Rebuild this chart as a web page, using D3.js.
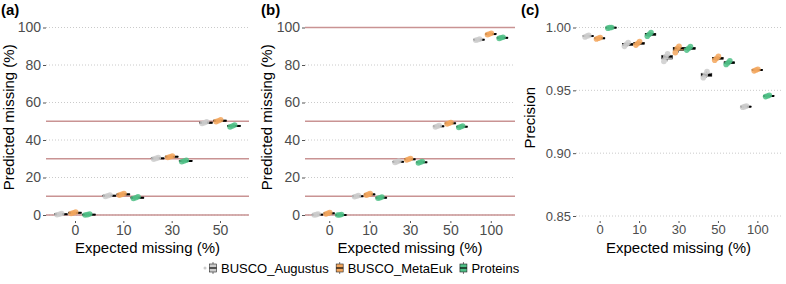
<!DOCTYPE html>
<html>
<head>
<meta charset="utf-8">
<script src="https://cdn.jsdelivr.net/npm/d3@7"></script>
<style>
  body { margin: 0; background: #fff; }
  svg { font-family: "Liberation Sans", Arial, sans-serif; }
</style>
</head>
<body>
<div id="chart"></div>
<script>
"use strict";

// categories and series (3 replicate values per group)
var methods = ["BUSCO_Augustus", "BUSCO_MetaEuk", "Proteins"];
var methodColors = ["#cccccc", "#f3a75e", "#4fbf86"];

var catsA = ["0", "10", "30", "50"];
var augA  = [[0.1, 0.4, 0.8], [9.9, 10.3, 10.7], [29.8, 30.2, 30.6], [48.8, 49.2, 49.7]];
var metaA = [[0.8, 1.2, 1.6], [10.6, 11.0, 11.5], [30.7, 31.1, 31.5], [49.8, 50.3, 50.8]];
var protA = [[0.0, 0.2, 0.5], [8.8, 9.2, 9.7], [28.4, 28.8, 29.2], [47.0, 47.5, 48.0]];

var catsB = ["0", "10", "30", "50", "100"];
var augB  = [[0.0, 0.2, 0.5], [9.7, 10.0, 10.4], [28.0, 28.4, 28.8], [46.9, 47.3, 47.7], [93.2, 93.5, 93.8]];
var metaB = [[0.5, 0.9, 1.3], [10.6, 11.0, 11.4], [29.3, 29.7, 30.1], [48.5, 48.9, 49.3], [96.2, 96.5, 96.9]];
var protB = [[0.0, 0.0, 0.3], [8.9, 9.2, 9.6], [27.7, 28.1, 28.5], [46.7, 47.1, 47.5], [94.2, 94.5, 94.8]];

var catsC = ["0", "10", "30", "50", "100"];
var augC  = [[0.9925, 0.9932, 0.9937], [0.9850, 0.9866, 0.9880], [0.9730, 0.9768, 0.9790], [0.9600, 0.9622, 0.9650], [0.9365, 0.9370, 0.9375]];
var metaC = [[0.9908, 0.9914, 0.9920], [0.9860, 0.9874, 0.9888], [0.9800, 0.9834, 0.9850], [0.9740, 0.9755, 0.9770], [0.9655, 0.9662, 0.9668]];
var protC = [[0.9995, 0.9999, 1.0000], [0.9930, 0.9946, 0.9960], [0.9820, 0.9834, 0.9848], [0.9705, 0.9720, 0.9735], [0.9450, 0.9455, 0.9460]];

var ticksAB = [0, 20, 40, 60, 80, 100];
var ticksC = [0.85, 0.90, 0.95, 1.00];

var width = 786, height = 284;
var svg = d3.select("#chart").append("svg")
  .attr("width", width).attr("height", height);

var tickColor = "#4d4d4d";

function panel(opt) {
  var g = svg.append("g");
  var x = d3.scalePoint().domain(opt.cats).range(opt.xr).padding(0.6);
  var y = d3.scaleLinear().domain(opt.yd).range([opt.yb, opt.yt]);
  var step = x.step();

  // grid
  g.selectAll("line.grid").data(opt.ticks).enter().append("line")
    .attr("x1", opt.xr[0]).attr("x2", opt.xr[1])
    .attr("y1", function (d) { return y(d); }).attr("y2", function (d) { return y(d); })
    .attr("stroke", "#bdbdbd").attr("stroke-width", 0.8)
    .attr("stroke-dasharray", "1,2");

  // expected lines
  if (opt.ref) {
    g.selectAll("line.ref").data(opt.cats).enter().append("line")
      .attr("x1", opt.xr[0]).attr("x2", opt.xr[1])
      .attr("y1", function (d) { return y(+d); }).attr("y2", function (d) { return y(+d); })
      .attr("stroke", "#c99393").attr("stroke-width", 1.3);
  }

  // y axis
  var yAxis = d3.axisLeft(y).tickValues(opt.ticks).tickSize(3).tickPadding(2)
    .tickFormat(opt.fmt);
  var ya = g.append("g").attr("transform", "translate(" + opt.xr[0] + ",0)").call(yAxis);
  ya.select(".domain").remove();
  ya.selectAll("line").attr("stroke", "#555");
  ya.selectAll("text").attr("fill", tickColor).style("font-size", opt.tfs + "px");

  // x axis
  var xAxis = d3.axisBottom(x).tickSize(2).tickPadding(2);
  var xa = g.append("g").attr("transform", "translate(0," + opt.xb + ")").call(xAxis);
  xa.select(".domain").remove();
  xa.selectAll("line").attr("stroke", "#555");
  xa.selectAll("text").attr("fill", tickColor).style("font-size", opt.tfs + "px");

  // boxplots
  var bw = step * 0.27;
  opt.series.forEach(function (s, m) {
    var off = (m - 1) * step * 0.29;
    s.forEach(function (vals, i) {
      var v = vals.slice().sort(d3.ascending);
      var cx = x(opt.cats[i]) + off;
      var q1 = d3.quantile(v, 0.25), q2 = d3.quantile(v, 0.5), q3 = d3.quantile(v, 0.75);
      g.append("line")
        .attr("x1", cx).attr("x2", cx)
        .attr("y1", y(v[0])).attr("y2", y(v[v.length - 1]))
        .attr("stroke", "#222").attr("stroke-width", 0.6);
      g.append("rect")
        .attr("x", cx - bw / 2).attr("width", bw)
        .attr("y", y(q3)).attr("height", Math.max(0.5, y(q1) - y(q3)))
        .attr("fill", methodColors[m]).attr("stroke", "#222").attr("stroke-width", 0.6);
      g.append("line")
        .attr("x1", cx - bw / 2).attr("x2", cx + bw / 2)
        .attr("y1", y(q2)).attr("y2", y(q2))
        .attr("stroke", "#000").attr("stroke-width", 2);
      var jit = [-0.3, -0.12, 0.05];
      v.forEach(function (d, k) {
        g.append("circle")
          .attr("cx", cx + jit[k] * bw).attr("cy", y(d)).attr("r", 2.8)
          .attr("fill", methodColors[m]).attr("fill-opacity", 0.85);
      });
    });
  });

  // titles
  var xmid = (opt.xr[0] + opt.xr[1]) / 2;
  g.append("text").attr("x", xmid).attr("y", 253)
    .attr("text-anchor", "middle").style("font-size", "15px")
    .text("Expected missing (%)");
  g.append("text")
    .attr("transform", "translate(" + opt.ytx + "," + ((opt.yt + opt.yb) / 2 - 4) + ") rotate(-90)")
    .attr("text-anchor", "middle").style("font-size", "15px")
    .text(opt.ytitle);
  g.append("text").attr("x", opt.lx).attr("y", 15)
    .style("font-size", "15px").style("font-weight", "bold")
    .text(opt.label);
}

panel({
  cats: catsA, series: [augA, metaA, protA], xr: [46, 249], yd: [0, 100],
  yb: 215, yt: 27.5, xb: 221, ticks: ticksAB, fmt: d3.format("d"), ref: true,
  tfs: 14, ytitle: "Predicted missing (%)", ytx: 14, lx: 1, label: "(a)"
});
panel({
  cats: catsB, series: [augB, metaB, protB], xr: [305, 515], yd: [0, 100],
  yb: 215, yt: 27.5, xb: 221, ticks: ticksAB, fmt: d3.format("d"), ref: true,
  tfs: 14, ytitle: "Predicted missing (%)", ytx: 272, lx: 261, label: "(b)"
});
panel({
  cats: catsC, series: [augC, metaC, protC], xr: [576, 781], yd: [0.85, 1.00],
  yb: 216, yt: 27.5, xb: 221, ticks: ticksC, fmt: d3.format(".2f"), ref: false,
  tfs: 13, ytitle: "Precision", ytx: 535, lx: 521, label: "(c)"
});

// legend, laid out left to right from the measured text widths
var legend = svg.append("g").attr("transform", "translate(0,268)");
legend.append("circle").attr("cx", 205).attr("cy", 0).attr("r", 1.5).attr("fill", "#cccccc");
var lx = 213;
methods.forEach(function (name, m) {
  var lg = legend.append("g").attr("transform", "translate(" + lx + ",0)");
  lg.append("line").attr("x1", 0).attr("x2", 0).attr("y1", -6).attr("y2", 6)
    .attr("stroke", "#222").attr("stroke-width", 0.6);
  lg.append("rect").attr("x", -3.5).attr("y", -4).attr("width", 7).attr("height", 8)
    .attr("fill", methodColors[m]).attr("stroke", "#222").attr("stroke-width", 0.6);
  lg.append("line").attr("x1", -3.5).attr("x2", 3.5).attr("y1", 0).attr("y2", 0)
    .attr("stroke", "#000").attr("stroke-width", 1.2);
  var t = lg.append("text").attr("x", 8).attr("y", 5)
    .style("font-size", "13px").text(name);
  lx += 8 + t.node().getComputedTextLength() + 11;
});
</script>
</body>
</html>
